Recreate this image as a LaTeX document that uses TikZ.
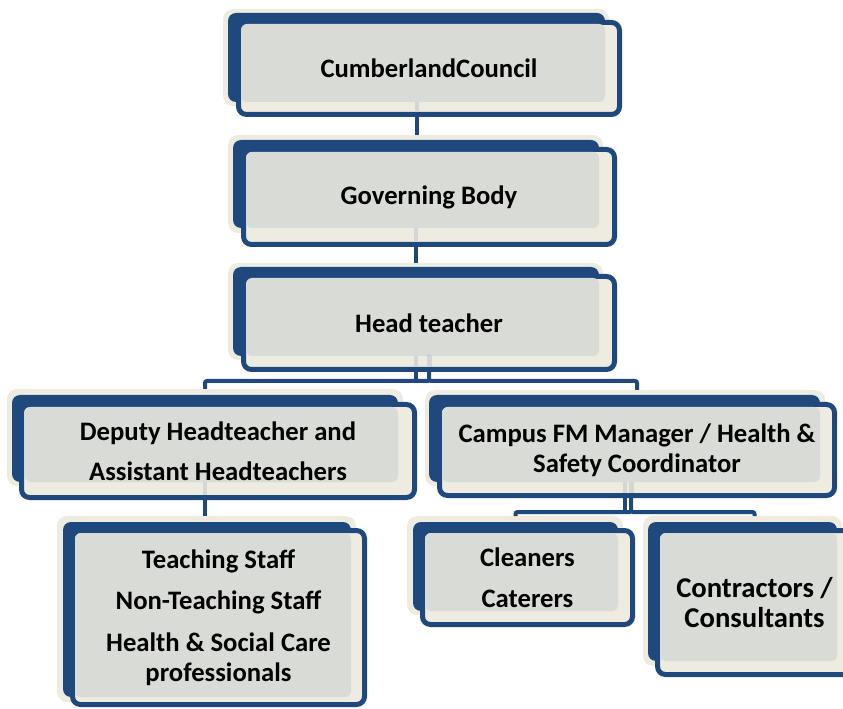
\documentclass[tikz,border=0pt]{standalone}
\usepackage{fontspec}
\setmainfont{Carlito}
\usepackage{xcolor}
\usepackage{tikz}
\usetikzlibrary{fit}
\definecolor{orgblue}{HTML}{1F497D}
\definecolor{orgcream}{HTML}{EEECE1}
\definecolor{orggrey}{HTML}{D9DBD6}
\definecolor{orgstub}{HTML}{D3D6D4}

\begin{document}
\begin{tikzpicture}[x=0.75pt,y=-0.75pt]
\tikzstyle{every node}+=[inner sep=0pt,outer sep=0pt]
\tikzstyle{halo}=[fill=orgcream,rounded corners=7.5pt]
\tikzstyle{backbox}=[fill=orgblue,rounded corners=6pt]
\tikzstyle{frontbox}=[draw=orgblue,line width=3.75pt,fill=orgcream,rounded corners=6pt]
\tikzstyle{greybox}=[fill=orggrey,rounded corners=4.5pt]
\tikzstyle{boxtext}=[font=\bfseries\fontsize{20}{22.5}\selectfont,align=center]
\tikzstyle{link}=[draw=orgblue,line width=3pt,rounded corners=1.5pt]
\tikzstyle{stub}=[draw=orgstub,line width=3pt,shorten >=1.9pt]
\useasboundingbox (0,0) rectangle (843,709);
% Cumberland Council
\node[halo,fit={(223,9) (609,106)}] (cc-h) {};
\node[backbox,fit={(228,13) (605,102)}] (cc-b) {};
\node[frontbox,fit={(238.5,22.5) (619.5,114.5)}] (cc) {};
\node[greybox,fit={(241,24) (605,102)}] (cc-g) {};
\node[boxtext] (cc-t) at (cc) {CumberlandCouncil};
% Governing Body
\node[halo,fit={(228,135) (603,233)}] (gb-h) {};
\node[backbox,fit={(233,140) (599,228)}] (gb-b) {};
\node[frontbox,fit={(243.5,149.5) (614.5,244.5)}] (gb) {};
\node[greybox,fit={(246,152) (599,228)}] (gb-g) {};
\node[boxtext] (gb-t) at (gb) {Governing Body};
% Head teacher
\node[halo,fit={(228,263) (603,360)}] (ht-h) {};
\node[backbox,fit={(233,267) (599,356)}] (ht-b) {};
\node[frontbox,fit={(243.5,276.5) (614.5,369.5)}] (ht) {};
\node[greybox,fit={(246,278) (599,356)}] (ht-g) {};
\node[boxtext] (ht-t) at (ht) {Head teacher};
% Deputy
\node[halo,fit={(7,389) (403,486)}] (dh-h) {};
\node[backbox,fit={(12,395) (398,482)}] (dh-b) {};
\node[frontbox,fit={(21.5,404.5) (414.5,497.5)}] (dh) {};
\node[greybox,fit={(25,407) (398,482)}] (dh-g) {};
\node[boxtext] (dh-t) at (dh) {Deputy Headteacher and\\[7.5pt]Assistant Headteachers};
% Campus FM
\node[halo,fit={(425,390) (825,486)}] (ca-h) {};
\node[backbox,fit={(429,395) (820,482)}] (ca-b) {};
\node[frontbox,fit={(439.5,404.5) (834.5,495.5)}] (ca) {};
\node[greybox,fit={(442,407) (820,482)}] (ca-g) {};
\node[boxtext] (ca-t) at (ca) {Campus FM Manager / Health \&\\Safety Coordinator};
% Cleaners
\node[halo,fit={(407,516) (623,615)}] (cl-h) {};
\node[backbox,fit={(413,522) (618,611)}] (cl-b) {};
\node[frontbox,fit={(422.5,530.5) (632.5,624.5)}] (cl) {};
\node[greybox,fit={(425,533) (618,611)}] (cl-g) {};
\node[boxtext] (cl-t) at (cl) {Cleaners\\[8pt]Caterers};
% Contractors
\node[halo,fit={(643,516) (842,666)}] (co-h) {};
\node[backbox,fit={(648,522) (837,661)}] (co-b) {};
\node[frontbox,fit={(657.5,530.5) (851.5,674.5)}] (co) {};
\node[greybox,fit={(660,533) (837,661)}] (co-g) {};
\node[boxtext,font=\bfseries\fontsize{21.5}{22.5}\selectfont] (co-t) at (co) {Contractors /\\Consultants};
% Staff
\node[halo,fit={(57,516) (356,702)}] (ts-h) {};
\node[backbox,fit={(63,522) (351,697)}] (ts-b) {};
\node[frontbox,fit={(72.5,530.5) (364.5,704.5)}] (ts) {};
\node[greybox,fit={(75,533) (351,697)}] (ts-g) {};
\node[boxtext] (ts-t) at (ts) {Teaching Staff\\[8.5pt]Non-Teaching Staff\\[8.5pt]Health \& Social Care\\professionals};
% connectors
\path (ht.south) ++(0,11.5) coordinate (ht-bar);
\path (ca.south) ++(-6,16.5) coordinate (ca-bar);
\draw[link] (cc-b.south) -- (cc-b.south |- gb-h.north);
\draw[link] (gb-b.south) -- (gb-b.south |- ht-h.north);
\draw[link] (ht-b.south) -- (ht-b.south |- ht-bar);
\draw[link] (ht-bar) -| (dh-b.north |- dh-h.north);
\draw[link] (ht.south |- ht-b.south) -- (ht-bar) -| (ca.north |- ca-h.north);
\draw[link] (dh-b.south) -- (dh-b.south |- ts-h.north);
\draw[link] (ca-b.south) -- (ca-b.south |- ca-bar);
\draw[link] (ca-bar) -| (cl-b.north |- cl-h.north);
\draw[link] (ca-bar |- ca-b.south) -- (ca-bar) -| (co.north |- co-h.north);
% faint stubs inside the boxes
\draw[stub] (cc-b.south) -- (cc-b.south |- cc.south);
\draw[stub] (gb-b.south) -- (gb-b.south |- gb.south);
\draw[stub] (ht-b.south) -- (ht-b.south |- ht.south);
\draw[stub] (ht.south |- ht-b.south) -- (ht.south);
\draw[stub] (dh-b.south) -- (dh-b.south |- dh.south);
\draw[stub] (ca-b.south) -- (ca-b.south |- ca.south);
\draw[stub] (ca-bar |- ca-b.south) -- (ca-bar |- ca.south);
\end{tikzpicture}
\end{document}
